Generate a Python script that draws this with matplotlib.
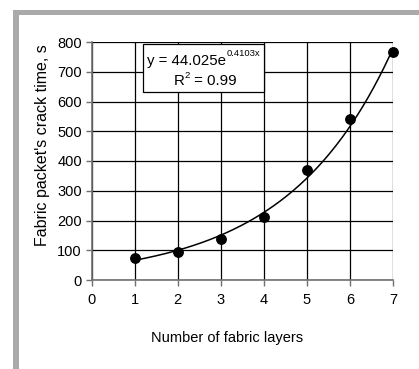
import numpy as np
import matplotlib
matplotlib.use("Agg")
import matplotlib.pyplot as plt
from matplotlib.patches import Rectangle

plt.rcParams['font.family'] = ['Liberation Sans', 'DejaVu Sans']

layers = [1, 2, 3, 4, 5, 6, 7]
crack_time = [75, 95, 137, 213, 371, 542, 767]
fit_a = 44.025
fit_b = 0.4103
x_ticks = [0, 1, 2, 3, 4, 5, 6, 7]
y_ticks = [0, 100, 200, 300, 400, 500, 600, 700, 800]

W, H = 419, 369
fig = plt.figure(figsize=(W / 100, H / 100), dpi=100)
fig.patch.set_facecolor('white')

# gray frame (top and left)
fig.add_artist(Rectangle((13 / W, 1 - 15 / H), 1 - 13 / W, 5 / H,
                         transform=fig.transFigure, facecolor='#aaaaaa', edgecolor='none'))
fig.add_artist(Rectangle((13 / W, 0), 6 / W, 1 - 10 / H,
                         transform=fig.transFigure, facecolor='#aaaaaa', edgecolor='none'))

ax = fig.add_axes([91.7 / W, 1 - 280 / H, (393 - 91.7) / W, (280 - 42) / H])
ax.set_xlim(0, 7)
ax.set_ylim(0, 800)
ax.set_xticks(x_ticks)
ax.set_yticks(y_ticks)
ax.grid(True, color='black', linewidth=0.9)
ax.set_axisbelow(True)
for s in ['top', 'right']:
    ax.spines[s].set_visible(False)
for s in ['left', 'bottom']:
    ax.spines[s].set_color('#707070')
    ax.spines[s].set_linewidth(1.2)
ax.tick_params(axis='both', direction='out', length=4, width=1, color='#707070',
               labelsize=10.5, labelcolor='black')
ax.tick_params(axis='x', pad=5)
ax.tick_params(axis='y', pad=3)

xs = np.linspace(1, 7, 200)
ax.plot(xs, fit_a * np.exp(fit_b * xs), color='black', linewidth=1.1, zorder=3)
ax.plot(layers, crack_time, 'o', color='black', markersize=6.8, zorder=4, clip_on=False)

ax.add_patch(Rectangle((1.19, 632), 2.81, 161, facecolor='white', edgecolor='black',
                       linewidth=0.9, zorder=5))
t1 = ax.text(1.29, 737, 'y = 44.025e', fontsize=10.8, zorder=6, va='center', ha='left')
ax.annotate('0.4103x', xy=(1.0, 0.72), xycoords=t1, fontsize=6.8, zorder=6,
            va='bottom', ha='left')
tr = ax.text(1.90, 668, 'R', fontsize=10.8, zorder=6, va='center', ha='left')
ts = ax.annotate('2', xy=(1.02, 0.62), xycoords=tr, fontsize=6.8, zorder=6,
                 va='bottom', ha='left')
ax.annotate(' = 0.99', xy=(1.0, 0.0), xycoords=(ts, tr), fontsize=10.8, zorder=6,
            va='bottom', ha='left')

fig.text(227 / W, 1 - 338 / H, 'Number of fabric layers', fontsize=10.5, ha='center', va='center')
fig.text(42 / W, 1 - 145 / H, "Fabric packet's crack time, s", fontsize=11.5,
         ha='center', va='center', rotation=90)

fig.savefig('out.png', dpi=100, facecolor='white')
